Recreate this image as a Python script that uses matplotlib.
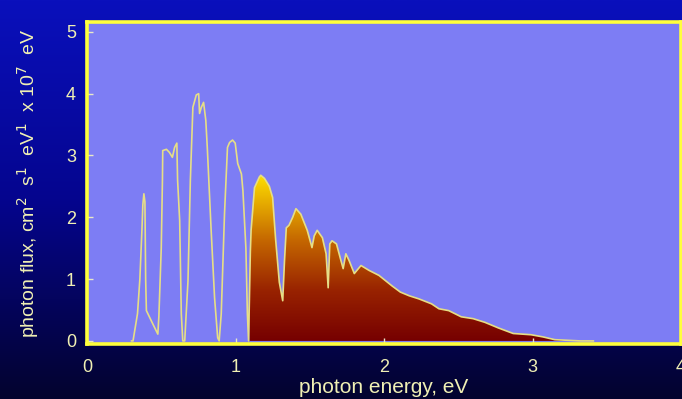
import numpy as np
import matplotlib
matplotlib.use("Agg")
import matplotlib.pyplot as plt
from matplotlib.colors import LinearSegmentedColormap
from matplotlib.patches import Polygon

plt.rcParams['font.family'] = ['Liberation Sans', 'DejaVu Sans']

# Solar photon flux spectrum (x 1e7 photons cm^-2 s^-1 eV^-1)
energy_ev = [0.30, 0.31, 0.34, 0.356, 0.37, 0.376, 0.383, 0.39, 0.395, 0.40,
             0.434, 0.477, 0.484, 0.50, 0.508, 0.51, 0.535, 0.555, 0.575, 0.59,
             0.605, 0.61, 0.624, 0.635, 0.645, 0.658, 0.68, 0.696, 0.713, 0.736,
             0.752, 0.758, 0.77, 0.785, 0.80, 0.81, 0.836, 0.859, 0.88, 0.89,
             0.904, 0.926, 0.946, 0.96, 0.98, 0.998, 1.015, 1.04, 1.05, 1.07,
             1.08, 1.088, 1.10, 1.105, 1.128, 1.16, 1.17, 1.195, 1.228, 1.25,
             1.27, 1.295, 1.318, 1.33, 1.342, 1.36, 1.385, 1.407, 1.44, 1.483,
             1.515, 1.53, 1.55, 1.585, 1.61, 1.624, 1.635, 1.65, 1.68, 1.71,
             1.725, 1.743, 1.765, 1.80, 1.845, 1.90, 1.966, 2.054, 2.11, 2.17,
             2.235, 2.32, 2.37, 2.436, 2.52, 2.60, 2.68, 2.77, 2.87, 2.99,
             3.07, 3.15, 3.32, 3.41]
photon_flux = [0.0, 0.0, 0.44, 1.0, 1.8, 2.2, 2.38, 2.25, 1.0, 0.49,
               0.32, 0.11, 0.4, 1.5, 2.6, 3.08, 3.1, 3.05, 2.97, 3.13,
               3.2, 2.6, 1.95, 0.44, 0.0, 0.0, 0.97, 2.6, 3.78, 3.98,
               4.0, 3.68, 3.78, 3.86, 3.57, 3.13, 1.79, 0.70, 0.05, 0.0,
               0.44, 2.06, 3.13, 3.21, 3.25, 3.2, 2.87, 2.7, 2.43, 1.5,
               0.44, 0.0, 1.45, 1.79, 2.48, 2.65, 2.68, 2.63, 2.5, 2.32,
               1.65, 0.95, 0.65, 1.3, 1.83, 1.87, 2.0, 2.14, 2.05, 1.79,
               1.51, 1.70, 1.79, 1.67, 1.41, 0.86, 1.57, 1.62, 1.57, 1.30,
               1.17, 1.41, 1.30, 1.09, 1.22, 1.14, 1.06, 0.89, 0.79, 0.73,
               0.68, 0.60, 0.52, 0.49, 0.39, 0.36, 0.30, 0.21, 0.12, 0.10,
               0.065, 0.02, 0.0, 0.0]
band_gap_ev = 1.094

x_ticks = [0, 1, 2, 3, 4]
y_ticks = [0, 1, 2, 3, 4, 5]

W, H, DPI = 682, 399, 100
fig = plt.figure(figsize=(W / DPI, H / DPI), dpi=DPI)

# Blue backdrop, brighter at the top
bg = fig.add_axes([0, 0, 1, 1], zorder=-10)
bg_cmap = LinearSegmentedColormap.from_list("bg", ["#03032e", "#05058e", "#0a10bc"])
bg.imshow(np.linspace(0, 1, 256).reshape(-1, 1), aspect="auto", cmap=bg_cmap,
          origin="lower", extent=[0, 1, 0, 1])
bg.set_axis_off()

ax = fig.add_axes([87 / W, 1 - 344 / H, (681 - 87) / W, (344 - 22) / H])
ax.set_facecolor("#7d7df4")

x = np.asarray(energy_ev)
y = np.asarray(photon_flux)

# Absorbed part of the spectrum: gradient fill above the band gap
mask = x >= band_gap_ev
y_gap = np.interp(band_gap_ev, x, y)
fx = np.concatenate([[band_gap_ev, band_gap_ev], x[mask], [x[mask][-1]]])
fy = np.concatenate([[0.0, y_gap], y[mask], [0.0]])
poly = Polygon(np.column_stack([fx, fy]), closed=True, facecolor="none",
               edgecolor="none", transform=ax.transData)
ax.add_patch(poly)
fill_cmap = LinearSegmentedColormap.from_list(
    "heat", [(0.0, "#760000"), (0.3, "#982200"), (0.6, "#c46600"), (1.0, "#ffe000")])
grad = ax.imshow(np.linspace(0, 1, 256).reshape(-1, 1), aspect="auto",
                 cmap=fill_cmap, origin="lower",
                 extent=[band_gap_ev, 3.5, 0, 2.7], zorder=1)
grad.set_clip_path(poly)
ax.set_xlim(0, 3.99)
ax.set_ylim(-0.05, 5.16)

ax.plot(x, y, color="#e6de86", lw=1.2, zorder=3)

for s in ax.spines.values():
    s.set_color("#ffff3c")
    s.set_linewidth(2.6)

ax.set_xticks(x_ticks)
ax.set_yticks(y_ticks)
ax.set_xticklabels([str(t) for t in x_ticks])
ax.set_yticklabels([str(t) for t in y_ticks])
ax.tick_params(direction="in", length=4, width=1, color="#e8e8c8",
               labelcolor="#f0f0b4", labelsize=13)
ax.tick_params(axis="x", pad=11)
ax.tick_params(axis="y", pad=8)

ax.set_xlabel("photon energy, eV", color="#f0f0b4", fontsize=15, labelpad=1)
ax.set_ylabel("photon flux, cm$^2$  s$^1$  eV$^1$  x 10$^7$  eV",
              color="#f0f0b4", fontsize=14, labelpad=18)

fig.savefig("out.png", dpi=DPI)
